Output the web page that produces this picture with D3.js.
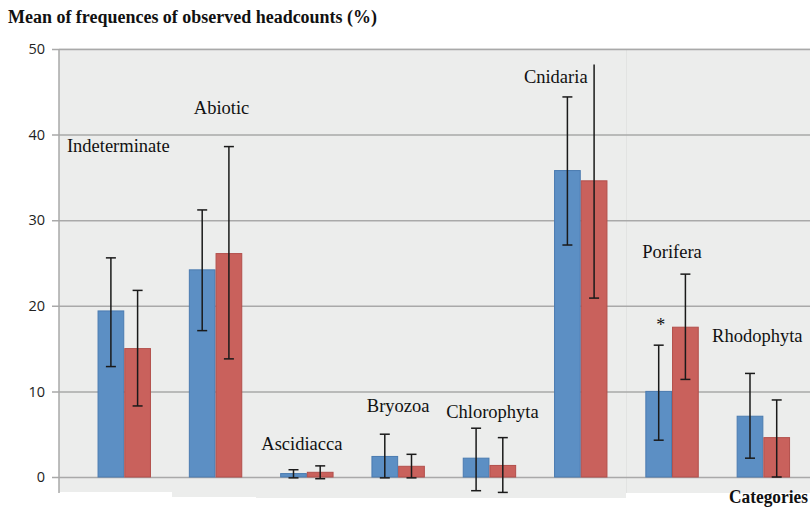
<!DOCTYPE html>
<html>
<head>
<meta charset="utf-8">
<script src="https://cdn.jsdelivr.net/npm/d3@7"></script>
<style>
  html, body { margin: 0; padding: 0; background: #fff; }
  svg { display: block; }
</style>
</head>
<body>
<svg id="chart" width="810" height="508"></svg>
<script>
// ---- data ----
const categories = ["Indeterminate", "Abiotic", "Ascidiacca", "Bryozoa", "Chlorophyta", "Cnidaria", "Porifera", "Rhodophyta"];
const series1Mean = [19.4, 24.2, 0.4, 2.4, 2.2, 35.8, 10.0, 7.1];
const series1Low  = [12.9, 17.1, -0.1, -0.1, -1.6, 27.1, 4.3, 2.2];
const series1High = [25.6, 31.2, 0.85, 5.0, 5.7, 44.4, 15.4, 12.1];
const series2Mean = [15.0, 26.1, 0.55, 1.25, 1.35, 34.6, 17.5, 4.6];
const series2Low  = [8.3, 13.8, -0.2, -0.1, -1.8, 20.9, 11.4, 0.0];
const series2High = [21.8, 38.6, 1.3, 2.65, 4.6, 48.2, 23.7, 9.0];
const yTicks = [0, 10, 20, 30, 40, 50];
const titleText = "Mean of frequences of observed headcounts (%)";
const xAxisTitle = "Categories";
const significant = ["Porifera"];

// ---- layout (positions only) ----
const labelLayout = {
  "Indeterminate": { dx: -6,  y: 151.7 },
  "Abiotic":       { dx: 6,   y: 114 },
  "Ascidiacca":    { dx: -5,  y: 450 },
  "Bryozoa":       { dx: 0,   y: 411.5 },
  "Chlorophyta":   { dx: 3,   y: 418 },
  "Cnidaria":      { dx: -25, y: 83 },
  "Porifera":      { dx: 0,   y: 258 },
  "Rhodophyta":    { dx: -6,  y: 341.5 }
};

const svg = d3.select("#chart");
const plotLeft = 59, plotRight = 812;
const y = d3.scaleLinear().domain([0, 50]).range([477, 49]);
const x = d3.scaleBand().domain(categories).range([78.6, 809]).paddingInner(0.415).paddingOuter(0.2075);
const xs = d3.scaleBand().domain([0, 1]).range([0, x.bandwidth()]);

// background patches
svg.append("rect").attr("x", plotLeft).attr("y", 48).attr("width", plotRight - plotLeft).attr("height", 450).attr("fill", "#ECEDEC");
svg.append("rect").attr("x", plotLeft).attr("y", 492).attr("width", 113).attr("height", 20).attr("fill", "#fff");
svg.append("rect").attr("x", 172).attr("y", 497).attr("width", 84).attr("height", 20).attr("fill", "#fff");
svg.append("rect").attr("x", 626).attr("y", 493).attr("width", 190).attr("height", 20).attr("fill", "#fff");
svg.append("line").attr("x1", 626.5).attr("x2", 626.5).attr("y1", 49).attr("y2", 493).attr("stroke", "#E2E3E2").attr("stroke-width", 1);

// gridlines + y axis
const yAxis = d3.axisLeft(y).tickValues(yTicks).tickSize(-(plotRight - plotLeft)).tickSizeOuter(0).tickPadding(14);
const gy = svg.append("g").attr("transform", `translate(${plotLeft},0)`).call(yAxis);
gy.select(".domain").remove();
gy.selectAll(".tick line").attr("stroke", "#A9A9A9").attr("stroke-width", 1.5).attr("x1", -7);
gy.selectAll(".tick text").attr("font-family", "Open Sans, sans-serif").attr("font-size", 14.5).attr("fill", "#222");
svg.append("line").attr("x1", plotLeft).attr("x2", plotLeft).attr("y1", 49).attr("y2", 493).attr("stroke", "#A9A9A9").attr("stroke-width", 1.5);

// bars
const seriesDefs = [
  { mean: series1Mean, low: series1Low, high: series1High, fill: "#5C8FC4", stroke: "#4A7BB0" },
  { mean: series2Mean, low: series2Low, high: series2High, fill: "#C9615C", stroke: "#B24F4B" }
];
seriesDefs.forEach((s, si) => {
  svg.append("g").selectAll("rect").data(categories).join("rect")
    .attr("x", (d) => x(d) + xs(si) + 0.5)
    .attr("y", (d, i) => y(s.mean[i]))
    .attr("width", xs.bandwidth() - 1)
    .attr("height", (d, i) => y(0) - y(s.mean[i]))
    .attr("fill", s.fill).attr("stroke", s.stroke).attr("stroke-width", 1);
});

// error bars
const capW = 10;
seriesDefs.forEach((s, si) => {
  const g = svg.append("g").attr("stroke", "#1a1a1a").attr("stroke-width", 1.5);
  categories.forEach((d, i) => {
    const cx = x(d) + xs(si) + xs.bandwidth() / 2;
    g.append("line").attr("x1", cx).attr("x2", cx).attr("y1", y(s.low[i])).attr("y2", y(s.high[i]));
    g.append("line").attr("x1", cx - capW / 2).attr("x2", cx + capW / 2).attr("y1", y(s.low[i])).attr("y2", y(s.low[i]));
    if (s.high[i] < 48) {
      g.append("line").attr("x1", cx - capW / 2).attr("x2", cx + capW / 2).attr("y1", y(s.high[i])).attr("y2", y(s.high[i]));
    }
  });
});

// category labels
svg.append("g").selectAll("text").data(categories).join("text")
  .attr("x", (d) => x(d) + x.bandwidth() / 2 + labelLayout[d].dx)
  .attr("y", (d) => labelLayout[d].y)
  .attr("text-anchor", "middle")
  .attr("font-family", "Liberation Serif, serif")
  .attr("font-size", 18.5)
  .attr("fill", "#111")
  .text((d) => d);

// significance marker
significant.forEach((d) => {
  const i = categories.indexOf(d);
  svg.append("text")
    .attr("x", x(d) + xs(0) + xs.bandwidth() / 2 + 2)
    .attr("y", y(series2Mean[i]) + 4)
    .attr("text-anchor", "middle")
    .attr("font-family", "Liberation Serif, serif")
    .attr("font-size", 18)
    .attr("fill", "#111")
    .text("*");
});

// titles
svg.append("text").attr("x", 8).attr("y", 23)
  .attr("font-family", "Liberation Serif, serif").attr("font-weight", "bold")
  .attr("font-size", 18).attr("fill", "#111")
  .attr("textLength", 369).attr("lengthAdjust", "spacingAndGlyphs")
  .text(titleText);
svg.append("text").attr("x", 729).attr("y", 503)
  .attr("font-family", "Liberation Serif, serif").attr("font-weight", "bold")
  .attr("font-size", 18).attr("fill", "#111")
  .attr("textLength", 79).attr("lengthAdjust", "spacingAndGlyphs")
  .text(xAxisTitle);
</script>
</body>
</html>
